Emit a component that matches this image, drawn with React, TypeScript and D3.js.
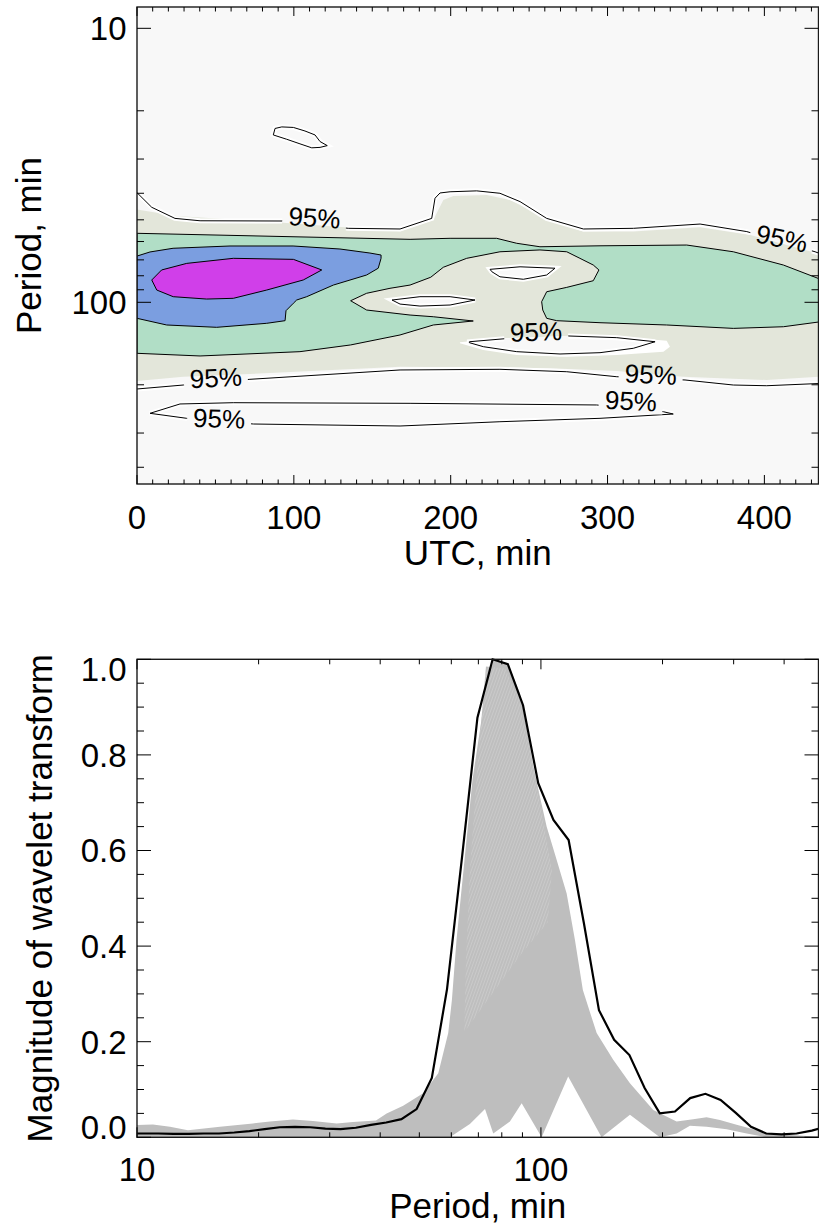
import React from "react";
import * as d3 from "d3";

type Pt = [number, number];

const FONT = "'Liberation Sans', Arial, Helvetica, sans-serif";

// ---------------- Top panel: wavelet power contours ([UTC min, period min]) ----------------
const utcMajor = [0, 100, 200, 300, 400];
const periodMajorTop = [10, 100];
const periodMinorTop = [20, 30, 40, 50, 60, 70, 80, 90, 200, 300, 400];

const levelBeige: Pt[] = [
  [0, 45.8], [25.3, 48.4], [93.3, 51.2], [167.7, 55.0], [188.9, 50.1], [195.3, 42.3], [201.7, 40.9],
  [223.0, 40.6], [237.8, 42.3], [252.7, 46.7], [265.4, 50.8], [284.6, 55.2], [316.5, 55.2], [359.0, 53.2],
  [391.0, 56.8], [436, 66.8], [436, 186.9], [401.5, 192.1], [348.3, 186.9], [305.9, 178.1], [263.3, 174.1],
  [167.7, 171.8], [72.0, 182.7], [29.5, 186.9], [0, 193.8],
];

const levelGreen: Pt[] = [
  [0, 56.0], [174.1, 58.9], [199.6, 58.4], [229.3, 58.4], [242.1, 60.9], [256.9, 62.7], [295.2, 62.2],
  [350.5, 61.8], [380.2, 65.4], [412.1, 73.1], [436, 82.5], [436, 117.7], [412.1, 122.8], [380.2, 124.5],
  [337.7, 121.0], [295.2, 118.7], [267.6, 116.7], [261.2, 114.4], [258.7, 106.7], [258.0, 99.5],
  [261.2, 91.5], [274.0, 88.2], [290.9, 83.4], [294.5, 76.2], [290.9, 73.1], [282.4, 69.1], [274.0, 65.4],
  [256.9, 64.4], [231.4, 65.4], [210.2, 69.1], [195.3, 74.5], [187.3, 81.0], [174.1, 86.5], [161.3, 88.9],
  [146.4, 92.7], [136.2, 98.7], [146.4, 106.7], [174.1, 111.3], [188.9, 112.9], [214.4, 117.0],
  [188.9, 121.0], [167.7, 131.6], [136.2, 143.1], [103.9, 151.4], [40.2, 157.0], [0, 153.5],
];

const levelBlue: Pt[] = [
  [0, 67.8], [8.3, 65.5], [23.0, 63.5], [59.3, 62.3], [99.5, 62.3], [129.4, 63.9], [148.5, 66.1],
  [155.6, 67.2], [155.6, 69.1], [153.8, 75.1], [146.4, 79.5], [125.2, 86.5], [108.2, 95.4], [101.8, 98.1],
  [99.7, 100.8], [95.0, 107.3], [94.4, 116.7], [82.7, 119.3], [50.8, 123.4], [18.9, 121.0], [0, 114.4],
];

const levelMagenta: Pt[] = [
  [9.4, 82.9], [15.7, 76.2], [31.7, 72.1], [61.4, 69.1], [99.7, 69.7], [117.8, 76.2], [106.0, 82.9],
  [82.7, 90.2], [61.4, 96.7], [44.4, 97.3], [23.1, 95.4], [12.6, 90.2],
];

const holeUpper: Pt[] = [
  [225.1, 75.8], [244.2, 74.2], [266.5, 75.1], [261.2, 79.5], [246.3, 82.4], [231.4, 80.7], [226.2, 77.3],
];
const holeMiddle: Pt[] = [
  [162.6, 98.1], [180.4, 95.4], [199.6, 95.4], [215.5, 98.1], [199.6, 102.3], [180.4, 103.2], [167.7, 101.5],
];
const holeLowerFill: Pt[] = [
  [205.9, 140.0], [231.4, 135.3], [295.2, 131.6], [337.7, 138.1], [339.8, 145.2], [335.6, 151.4],
  [305.9, 155.7], [274.0, 157.9], [242.1, 155.7], [220.8, 149.3], [205.9, 141.2],
];

// 95% significance contours
const sig95Upper: Pt[] = [
  [0, 39.8], [9.4, 45.0], [24.2, 49.4], [40.2, 50.4], [93.3, 50.5], [134.7, 53.7], [167.7, 54.0],
  [187.9, 49.4], [190.0, 41.7], [193.2, 39.9], [199.6, 39.5], [216.6, 39.2], [231.4, 40.0], [244.2, 42.9],
  [261.2, 49.4], [284.6, 54.0], [316.5, 53.7], [359.0, 51.8], [388.8, 55.2], [432.3, 65.4], [438, 67.2],
];
const sig95Lower: Pt[] = [
  [0, 207.2], [29.5, 200.4], [72.0, 191.0], [167.7, 176.6], [231.4, 175.6], [274.0, 179.2], [305.9, 186.9],
  [349.4, 192.1], [380.2, 200.4], [401.5, 201.6], [438, 197.5],
];
const sig95Bottom: Pt[] = [
  [8.3, 254.2], [27.4, 235.0], [61.4, 232.5], [174.1, 233.7], [293.1, 237.0], [335.6, 250.8], [341.9, 255.7],
  [295.2, 265.1], [231.4, 272.8], [167.7, 282.8], [74.2, 278.1], [31.7, 265.1],
];
const sig95HoleLower: Pt[] = [
  [211.9, 139.3], [237.8, 135.3], [275.0, 132.7], [305.9, 134.6], [330.3, 139.3], [316.4, 147.2],
  [295.2, 152.7], [269.7, 154.4], [242.1, 151.4], [220.8, 145.2], [211.9, 140.4],
];
const sig95Small: Pt[] = [
  [86.9, 24.5], [88.0, 23.2], [92.3, 22.9], [99.7, 23.0], [107.1, 23.7], [113.5, 24.5], [116.7, 25.9],
  [121.3, 26.8], [116.7, 27.2], [111.4, 27.3], [103.9, 26.4], [95.4, 25.4],
];

const sig95Labels = [
  { t: 113.2, p: 49.0, angle: 4 },
  { t: 411.1, p: 58.4, angle: 12 },
  { t: 254.4, p: 127.8, angle: -2 },
  { t: 50.2, p: 188.2, angle: -3 },
  { t: 327.6, p: 183.0, angle: 3 },
  { t: 52.4, p: 265.1, angle: 2 },
  { t: 314.9, p: 228.8, angle: 3 },
];

// ---------------- Bottom panel: magnitude of wavelet transform vs period ----------------
const periodMajorBot = [10, 100];
const periodMinorBot = [20, 30, 40, 50, 60, 70, 80, 90, 200, 300, 400];
const magMajor = [0, 0.2, 0.4, 0.6, 0.8, 1.0];

const periods = [
  9.49, 10.35, 11.29, 12.31, 13.42, 14.64, 15.96, 17.41, 18.98, 20.7, 22.57, 24.62, 26.84, 29.27, 31.92,
  34.81, 37.96, 41.4, 45.15, 49.23, 53.69, 58.55, 63.85, 69.63, 75.93, 82.8, 90.3, 98.47, 107.4, 117.1,
  127.7, 139.2, 151.8, 165.6, 180.6, 196.9, 214.7, 234.2, 255.4, 278.5, 303.7, 331.2, 361.2, 393.9, 429.5,
  468.4, 510.8,
];
const globalMagnitude = [
  0.008, 0.008, 0.008, 0.007, 0.007, 0.008, 0.008, 0.01, 0.013, 0.017, 0.021, 0.022, 0.021, 0.018, 0.017,
  0.02, 0.026, 0.031, 0.038, 0.059, 0.124, 0.31, 0.59, 0.878, 1.0, 0.99, 0.904, 0.741, 0.664, 0.622,
  0.449, 0.266, 0.204, 0.172, 0.103, 0.05, 0.054, 0.082, 0.091, 0.078, 0.051, 0.022, 0.008, 0.006, 0.008,
  0.014, 0.023,
];

// envelope of the individual (per time step) magnitude curves
const localUpper: Pt[] = [
  [9.61, 0.025], [10.95, 0.027], [12.07, 0.022], [13.37, 0.015], [16.05, 0.022], [19.37, 0.029],
  [21.34, 0.033], [24.33, 0.037], [27.27, 0.034], [31.21, 0.029], [34.25, 0.032], [39.05, 0.035],
  [41.5, 0.05], [45.6, 0.066], [51.1, 0.092], [55.7, 0.134], [58.95, 0.218], [60.2, 0.287], [61.8, 0.413],
  [67.7, 0.748], [71.4, 0.879], [76.2, 0.998], [83.0, 0.99], [88.7, 0.929], [92.2, 0.859], [95.7, 0.775],
  [99.4, 0.713], [103.3, 0.65], [109.4, 0.58], [115.8, 0.51], [121.4, 0.413], [127.0, 0.308],
  [137.4, 0.218], [151.0, 0.162], [166.1, 0.113], [189.7, 0.057], [216.7, 0.033], [238.2, 0.038],
  [257.1, 0.042], [277.4, 0.036], [305.1, 0.026], [335.5, 0.017], [362.1, 0.008], [487.5, 0.001],
  [520, 0.001],
];
const localLower: Pt[] = [
  [9.61, 0], [59.5, 0], [66.7, 0.028], [72.7, 0.059], [76.2, 0.008], [83.8, 0.033], [89.6, 0.071],
  [100.4, 0], [116.8, 0.127], [141.3, 0], [166.1, 0.047], [197.0, 0], [216.7, 0.008], [233.8, 0.024],
  [257.1, 0.022], [288.2, 0.017], [323.1, 0.008], [362.1, 0], [520, 0],
];
// sparser (lighter-looking) inner part of the bundle of curves
const sparseZone: Pt[] = [
  [73.1, 0.985], [69.8, 0.789], [66.7, 0.559], [65.2, 0.371], [64.6, 0.22], [89.7, 0.385], [104.0, 0.45],
  [106.5, 0.56], [99.4, 0.706], [88.7, 0.915], [81.5, 0.981],
];

export default function App() {
  // layout
  const L = 137, R = 818.5;
  const tTop = 7, tBot = 484;
  const bTop = 659.3, bBot = 1137.3;

  const xT = d3.scaleLinear().domain([0, 434.5]).range([L, R]);
  const yT = d3.scaleLog().domain([8.36, 460.4]).range([tTop, tBot]);
  const xB = d3.scaleLog().domain([10, 486.6]).range([L, R]);
  const yB = d3.scaleLinear().domain([0, 1]).range([bBot, bTop]);

  const openT = d3.line<Pt>().x((d) => xT(d[0])).y((d) => yT(d[1]));
  const closedT = d3.line<Pt>().x((d) => xT(d[0])).y((d) => yT(d[1])).curve(d3.curveLinearClosed);
  const closedB = d3.line<Pt>().x((d) => xB(d[0])).y((d) => yB(d[1])).curve(d3.curveLinearClosed);
  const lineB = d3.line<number>().x((_, i) => xB(periods[i])).y((d) => yB(d));

  const utcMinor = d3.range(0, 435, 10).filter((v) => v % 100 !== 0);
  const magMinor = d3.range(0, 1.001, 0.05).map((v) => +v.toFixed(2)).filter((v) => Math.round(v * 100) % 20 !== 0);

  const sigOpen = [sig95Upper, sig95Lower];
  const sigClosed = [sig95Bottom, sig95HoleLower, sig95Small, holeUpper, holeMiddle];

  const grayPoly: Pt[] = [...localUpper, ...[...localLower].reverse()];

  const tickFont = 33;
  const titleFont = 35;

  return (
    <svg width={819} height={1227} style={{ position: "absolute", left: 0, top: 0, background: "#fff" }} fontFamily={FONT}>
      <defs>
        <clipPath id="clipTop">
          <rect x={L} y={tTop} width={R - L} height={tBot - tTop} />
        </clipPath>
        <clipPath id="clipBot">
          <rect x={L} y={bTop - 2} width={R - L} height={bBot - bTop + 2} />
        </clipPath>
        <pattern id="sparse" width={2.8} height={2.8} patternUnits="userSpaceOnUse" patternTransform="rotate(-70)">
          <rect width={2.8} height={2.8} fill="#bebebe" />
          <line x1={0} y1={1.4} x2={2.8} y2={1.4} stroke="#d2d2d2" strokeWidth={0.6} />
        </pattern>
        <mask id="labelMask" maskUnits="userSpaceOnUse" x={0} y={0} width={819} height={1227}>
          <rect x={0} y={0} width={819} height={1227} fill="white" />
          {sig95Labels.map((lb, i) => (
            <rect key={i} x={-32} y={-12} width={64} height={24} fill="black"
              transform={`translate(${xT(lb.t)},${yT(lb.p)}) rotate(${lb.angle})`} />
          ))}
        </mask>
      </defs>

      {/* ---------------- TOP PANEL ---------------- */}
      <g clipPath="url(#clipTop)">
        <rect x={L} y={tTop} width={R - L} height={tBot - tTop} fill="#f8f8f8" />
        <path d={closedT(levelBeige) || ""} fill="#e3e6da" />
        <path d={closedT(holeLowerFill) || ""} fill="#ffffff" />
        <path d={closedT(holeUpper) || ""} fill="#f8f8f8" />
        <path d={closedT(holeMiddle) || ""} fill="#f8f8f8" />
        <path d={closedT(levelGreen) || ""} fill="#b1dec6" stroke="#000" strokeWidth={1} />
        <path d={closedT(levelBlue) || ""} fill="#7b9ee0" stroke="#000" strokeWidth={1} />
        <path d={closedT(levelMagenta) || ""} fill="#d03fe9" stroke="#000" strokeWidth={1} />
        <path d={closedT(sig95HoleLower) || ""} fill="#f8f8f8" />
        <g mask="url(#labelMask)" fill="none">
          {sigOpen.map((s, i) => (
            <path key={"ho" + i} d={openT(s) || ""} stroke="#ffffff" strokeWidth={5} />
          ))}
          {sigClosed.map((s, i) => (
            <path key={"hc" + i} d={closedT(s) || ""} stroke="#ffffff" strokeWidth={5} />
          ))}
          {sigOpen.map((s, i) => (
            <path key={"lo" + i} d={openT(s) || ""} stroke="#000" strokeWidth={1} />
          ))}
          {sigClosed.map((s, i) => (
            <path key={"lc" + i} d={closedT(s) || ""} stroke="#000" strokeWidth={1} />
          ))}
        </g>
        {sig95Labels.map((lb, i) => (
          <text key={i} fontSize={26} textAnchor="middle" dy="0.36em" fill="#000"
            transform={`translate(${xT(lb.t)},${yT(lb.p)}) rotate(${lb.angle})`}>95%</text>
        ))}
      </g>
      {/* top frame */}
      <rect x={L} y={tTop} width={R - L} height={tBot - tTop} fill="none" stroke="#1a1a1a" strokeWidth={1.4} />
      <g stroke="#000" strokeWidth={1}>
        {utcMajor.map((v) => (
          <g key={"tM" + v}>
            <line x1={xT(v)} x2={xT(v)} y1={tBot} y2={tBot - 9} />
            <line x1={xT(v)} x2={xT(v)} y1={tTop} y2={tTop + 9} />
          </g>
        ))}
        {utcMinor.map((v) => (
          <g key={"tm" + v}>
            <line x1={xT(v)} x2={xT(v)} y1={tBot} y2={tBot - 4.5} />
            <line x1={xT(v)} x2={xT(v)} y1={tTop} y2={tTop + 4.5} />
          </g>
        ))}
        {periodMajorTop.map((v) => (
          <g key={"pM" + v}>
            <line x1={L} x2={L + 14} y1={yT(v)} y2={yT(v)} />
            <line x1={R} x2={R - 14} y1={yT(v)} y2={yT(v)} />
          </g>
        ))}
        {periodMinorTop.map((v) => (
          <g key={"pm" + v}>
            <line x1={L} x2={L + 7} y1={yT(v)} y2={yT(v)} />
            <line x1={R} x2={R - 7} y1={yT(v)} y2={yT(v)} />
          </g>
        ))}
      </g>
      <g fontSize={tickFont} fill="#000">
        {utcMajor.map((v) => (
          <text key={"tl" + v} x={xT(v)} y={tBot + 44.6} textAnchor="middle">{v}</text>
        ))}
        {periodMajorTop.map((v) => (
          <text key={"pl" + v} x={126.5} y={yT(v)} dy="0.36em" textAnchor="end">{v}</text>
        ))}
      </g>
      <text x={(L + R) / 2} y={tBot + 80.5} fontSize={titleFont} textAnchor="middle">UTC, min</text>
      <text transform={`translate(41,${(tTop + tBot) / 2}) rotate(-90)`} fontSize={titleFont} textAnchor="middle">Period, min</text>

      {/* ---------------- BOTTOM PANEL ---------------- */}
      <g clipPath="url(#clipBot)">
        <path d={closedB(grayPoly) || ""} fill="#bebebe" />
        <path d={closedB(sparseZone) || ""} fill="url(#sparse)" />
        <path d={lineB(globalMagnitude) || ""} fill="none" stroke="#000" strokeWidth={2.2} strokeLinejoin="miter" />
      </g>
      <rect x={L} y={bTop} width={R - L} height={bBot - bTop} fill="none" stroke="#1a1a1a" strokeWidth={1.4} />
      <g stroke="#000" strokeWidth={1}>
        {periodMajorBot.map((v) => (
          <g key={"bM" + v}>
            <line x1={xB(v)} x2={xB(v)} y1={bBot} y2={bBot - 10} />
            <line x1={xB(v)} x2={xB(v)} y1={bTop} y2={bTop + 10} />
          </g>
        ))}
        {periodMinorBot.map((v) => (
          <g key={"bm" + v}>
            <line x1={xB(v)} x2={xB(v)} y1={bBot} y2={bBot - 5} />
            <line x1={xB(v)} x2={xB(v)} y1={bTop} y2={bTop + 5} />
          </g>
        ))}
        {magMajor.map((v) => (
          <g key={"mM" + v}>
            <line x1={L} x2={L + 14} y1={yB(v)} y2={yB(v)} />
            <line x1={R} x2={R - 14} y1={yB(v)} y2={yB(v)} />
          </g>
        ))}
        {magMinor.map((v) => (
          <g key={"mm" + v}>
            <line x1={L} x2={L + 7} y1={yB(v)} y2={yB(v)} />
            <line x1={R} x2={R - 7} y1={yB(v)} y2={yB(v)} />
          </g>
        ))}
      </g>
      <g fontSize={tickFont} fill="#000">
        {periodMajorBot.map((v) => (
          <text key={"bl" + v} x={xB(v)} y={bBot + 44} textAnchor="middle">{v}</text>
        ))}
        {magMajor.map((v) => (
          <text key={"ml" + v} x={126.5} y={yB(v) + (v === 1 ? 10 : v === 0 ? -10 : 0)} dy="0.36em" textAnchor="end">
            {v.toFixed(1)}
          </text>
        ))}
      </g>
      <text x={(L + R) / 2} y={bBot + 80.5} fontSize={titleFont} textAnchor="middle">Period, min</text>
      <text transform={`translate(52,${(bTop + bBot) / 2}) rotate(-90)`} fontSize={titleFont} textAnchor="middle">
        Magnitude of wavelet transform
      </text>
    </svg>
  );
}
